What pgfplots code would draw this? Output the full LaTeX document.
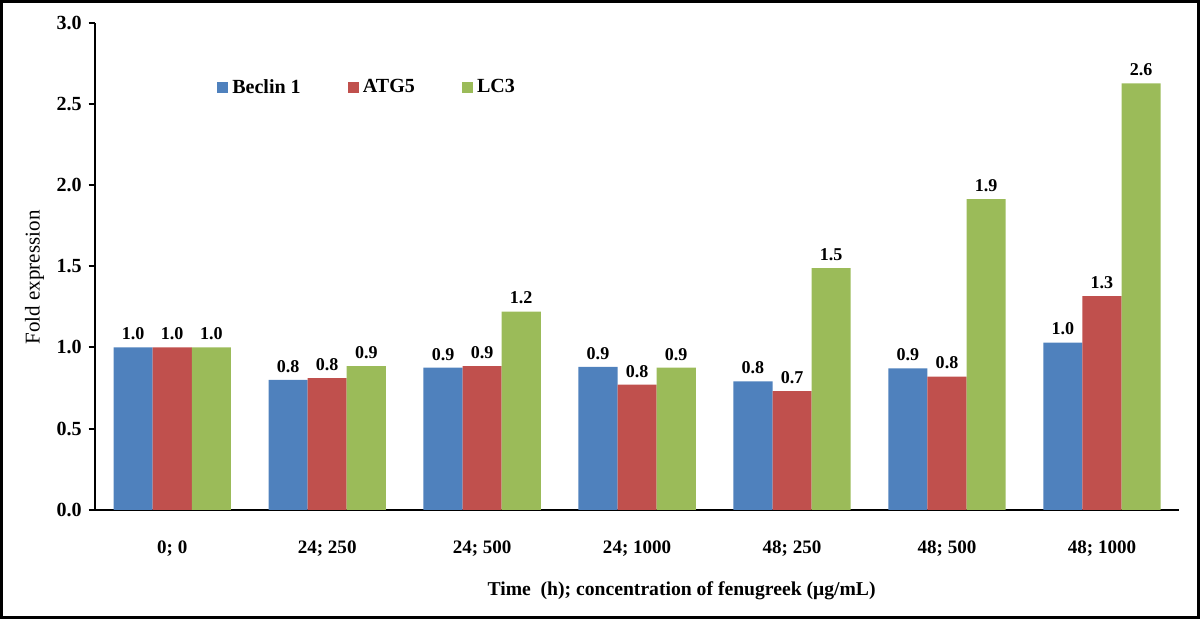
\documentclass[border=0pt]{standalone}
\usepackage{pgfplots}
\usepackage{pgfplotstable}
\pgfplotsset{compat=1.18}
\usepackage{fontspec}
\setmainfont{Liberation Serif}
\definecolor{cB}{HTML}{4F81BD}
\definecolor{cA}{HTML}{C0504D}
\definecolor{cL}{HTML}{9BBB59}
\pgfplotstableread{
x b bl a al l ll
0 1.00 1.0 1.00 1.0 1.00 1.0
1 0.80 0.8 0.81 0.8 0.885 0.9
2 0.875 0.9 0.885 0.9 1.22 1.2
3 0.88 0.9 0.77 0.8 0.875 0.9
4 0.79 0.8 0.73 0.7 1.488 1.5
5 0.87 0.9 0.82 0.8 1.913 1.9
6 1.03 1.0 1.315 1.3 2.625 2.6
}\datatab
\begin{document}
\begin{tikzpicture}
\begin{axis}[name=ax, scale only axis, width=541pt, height=243pt,
  xmin=-0.5, xmax=6.5, ymin=0, ymax=3,
  ybar=0pt, bar width=19.5pt,
  legend image code/.code={\fill[#1] (0pt,-2.75pt) rectangle (5.5pt,2.75pt);},
  axis x line*=bottom, axis y line*=left,
  axis line style={line width=1pt, -},
  xtick={0,1,2,3,4,5,6},
  xticklabels={0; 0, 24; 250, 24; 500, 24; 1000, 48; 250, 48; 500, 48; 1000},
  x tick style={draw=none},
  xticklabel style={font=\bfseries\fontsize{9.5}{10}\selectfont, anchor=center, yshift=-16.5pt},
  ytick={0,0.5,1,1.5,2,2.5,3},
  tick align=outside, major tick length=3pt,
  y tick style={line width=1pt, black},
  yticklabel style={font=\bfseries\fontsize{10}{11}\selectfont, /pgf/number format/.cd, fixed, fixed zerofill, precision=1, assume math mode=true},
  ylabel={Fold expression},
  ylabel style={at={(axis description cs:-0.0555,0.477)}, anchor=center, font=\fontsize{10.5}{12}\selectfont},
  xlabel={Time~~(h); concentration of fenugreek (μg/mL)},
  xlabel style={at={(axis description cs:0.541,0)}, anchor=center, yshift=-40.5pt, font=\bfseries\fontsize{9.8}{12}\selectfont},
  legend style={at={(axis description cs:0.107,0.866)}, anchor=west, draw=none, fill=none,
    legend columns=3, font=\bfseries\fontsize{10}{12}\selectfont,
    /tikz/every even column/.append style={column sep=21.5pt}},
  nodes near coords, point meta=explicit symbolic,
  every node near coord/.append style={font=\bfseries\fontsize{9}{10}\selectfont, inner sep=3.5pt},
  clip=false,
]
\addplot[fill=cB, draw=none] table[x=x, y=b, meta=bl] {\datatab};
\addplot[fill=cA, draw=none] table[x=x, y=a, meta=al] {\datatab};
\addplot[fill=cL, draw=none] table[x=x, y=l, meta=ll] {\datatab};
\legend{Beclin 1, ATG5, LC3}
\end{axis}
\draw[line width=1.5pt] ([xshift=-46.5pt,yshift=-53.5pt]ax.south west) rectangle ([xshift=9.5pt,yshift=10.5pt]ax.north east);
\end{tikzpicture}
\end{document}
